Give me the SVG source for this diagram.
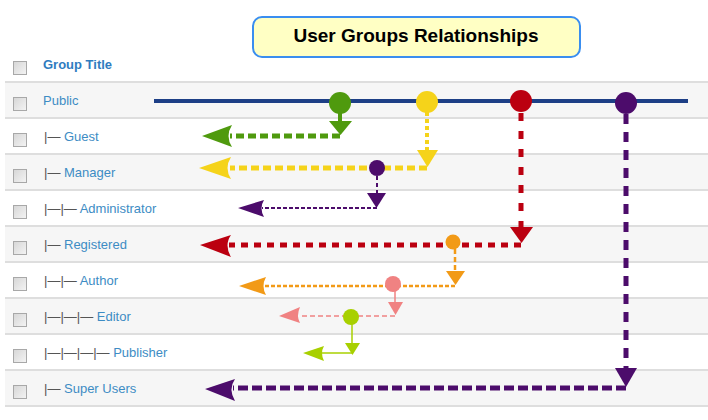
<svg xmlns="http://www.w3.org/2000/svg" width="708" height="420" viewBox="0 0 708 420">
<style>
.bg{fill:#f6f6f6}
.sep{stroke:#dedede;stroke-width:2}
.cb{fill:url(#cbg);stroke:#a8a8a8;stroke-width:1}
.lbl{font-family:"Liberation Sans",Arial,sans-serif;font-size:13px;fill:#3d8cc4}
.tree{fill:#555555}
.hdr{font-weight:bold;fill:#2f7cbf}
.title{font-family:"Liberation Sans",Arial,sans-serif;font-size:19px;font-weight:bold;fill:#000}
.ln{fill:none}
</style>
<defs>
<linearGradient id="cbg" x1="0" y1="0" x2="1" y2="1">
<stop offset="0" stop-color="#d6d6d6"/>
<stop offset="1" stop-color="#f4f4f4"/>
</linearGradient>
</defs>
<rect width="708" height="420" fill="#ffffff"/>

<g id="table">
<rect class="bg" x="5" y="82" width="703" height="36"/>
<rect class="bg" x="5" y="154" width="703" height="36"/>
<rect class="bg" x="5" y="226" width="703" height="36"/>
<rect class="bg" x="5" y="298" width="703" height="36"/>
<rect class="bg" x="5" y="370" width="703" height="36"/>
<g class="sep">
<line x1="5" y1="82" x2="708" y2="82"/>
<line x1="5" y1="118" x2="708" y2="118"/>
<line x1="5" y1="154" x2="708" y2="154"/>
<line x1="5" y1="190" x2="708" y2="190"/>
<line x1="5" y1="226" x2="708" y2="226"/>
<line x1="5" y1="262" x2="708" y2="262"/>
<line x1="5" y1="298" x2="708" y2="298"/>
<line x1="5" y1="334" x2="708" y2="334"/>
<line x1="5" y1="370" x2="708" y2="370"/>
<line x1="5" y1="406" x2="708" y2="406"/>
</g>
</g>

<g id="title">
<rect x="253" y="17" width="327" height="40" rx="9" fill="#ffffc4" stroke="#3a8ef0" stroke-width="2"/>
<text class="title" x="416" y="42" text-anchor="middle">User Groups Relationships</text>
</g>

<g id="row-header"><rect class="cb" x="13.5" y="61.5" width="13" height="13"/><text class="lbl hdr" x="43" y="69">Group Title</text></g>
<g id="row-public"><rect class="cb" x="13.5" y="97.5" width="13" height="13"/><text class="lbl" x="43" y="105">Public</text></g>
<g id="row-guest"><rect class="cb" x="13.5" y="133.5" width="13" height="13"/><text class="lbl" x="44" y="141"><tspan class="tree">|—</tspan> Guest</text></g>
<g id="row-manager"><rect class="cb" x="13.5" y="169.5" width="13" height="13"/><text class="lbl" x="44" y="177"><tspan class="tree">|—</tspan> Manager</text></g>
<g id="row-administrator"><rect class="cb" x="13.5" y="205.5" width="13" height="13"/><text class="lbl" x="44" y="213"><tspan class="tree">|—|—</tspan> Administrator</text></g>
<g id="row-registered"><rect class="cb" x="13.5" y="241.5" width="13" height="13"/><text class="lbl" x="44" y="249"><tspan class="tree">|—</tspan> Registered</text></g>
<g id="row-author"><rect class="cb" x="13.5" y="277.5" width="13" height="13"/><text class="lbl" x="44" y="285"><tspan class="tree">|—|—</tspan> Author</text></g>
<g id="row-editor"><rect class="cb" x="13.5" y="313.5" width="13" height="13"/><text class="lbl" x="44" y="321"><tspan class="tree">|—|—|—</tspan> Editor</text></g>
<g id="row-publisher"><rect class="cb" x="13.5" y="349.5" width="13" height="13"/><text class="lbl" x="44" y="357"><tspan class="tree">|—|—|—|—</tspan> Publisher</text></g>
<g id="row-superusers"><rect class="cb" x="13.5" y="385.5" width="13" height="13"/><text class="lbl" x="44" y="393"><tspan class="tree">|—</tspan> Super Users</text></g>

<g id="connectors">
<line x1="154" y1="101" x2="688" y2="101" stroke="#1d3f86" stroke-width="4"/>

<g id="c-guest" fill="#4f9a0e" stroke="#4f9a0e">
<path class="ln" d="M340,112 V122" stroke-width="4"/>
<path d="M329,121 L352,121 L340.5,135 Z" stroke="none"/>
<path class="ln" d="M340,136 H230" stroke-width="5" stroke-dasharray="8 4"/>
<path d="M202,136 L232,125 Q225,136 232,147 Z" stroke="none"/>
<circle cx="340" cy="103" r="11" stroke="none"/>
</g>

<g id="c-manager" fill="#f5d31a" stroke="#f5d31a">
<path class="ln" d="M427,112 V151" stroke-width="4" stroke-dasharray="4 3"/>
<path d="M417,150 L438,150 L427.5,167 Z" stroke="none"/>
<path class="ln" d="M427,168 H230" stroke-width="5" stroke-dasharray="8 4"/>
<path d="M199,168 L231,157 Q224,168 231,179 Z" stroke="none"/>
<circle cx="427" cy="102" r="11" stroke="none"/>
</g>

<g id="c-administrator" fill="#4c0c6b" stroke="#4c0c6b">
<path class="ln" d="M377,176 V194" stroke-width="2" stroke-dasharray="4 3"/>
<path d="M367,193 L386,193 L376.5,208 Z" stroke="none"/>
<path class="ln" d="M377,208 H262" stroke-width="2" stroke-dasharray="4 2"/>
<path d="M238,208 L264,200 Q259,208 264,217 Z" stroke="none"/>
<circle cx="377" cy="168" r="8" stroke="none"/>
</g>

<g id="c-registered" fill="#bb0010" stroke="#bb0010">
<path class="ln" d="M521,113 V228" stroke-width="5" stroke-dasharray="8 10"/>
<path d="M510,227 L533,227 L521.5,243 Z" stroke="none"/>
<path class="ln" d="M521,245 H229" stroke-width="5" stroke-dasharray="7 6"/>
<path d="M200,245 L231,235 Q224,245 231,257 Z" stroke="none"/>
<circle cx="521" cy="101" r="11" stroke="none"/>
</g>

<g id="c-author" fill="#f29a17" stroke="#f29a17">
<path class="ln" d="M455,249 V272" stroke-width="2.5" stroke-dasharray="5 3"/>
<path d="M446,271 L465,271 L455.5,285 Z" stroke="none"/>
<path class="ln" d="M455,286 H265" stroke-width="2.5" stroke-dasharray="4 2"/>
<path d="M239,286 L266,277 Q261,286 266,295 Z" stroke="none"/>
<circle cx="453" cy="242" r="7.5" stroke="none"/>
</g>

<g id="c-editor" fill="#f08282" stroke="#f08282">
<path class="ln" d="M395,291 V303" stroke-width="1.5"/>
<path d="M388,302 L403,302 L395.5,315 Z" stroke="none"/>
<path class="ln" d="M395,316 H299" stroke-width="1.5" stroke-dasharray="5 3"/>
<path d="M279,316 L300,307 Q296,316 300,323 Z" stroke="none"/>
<circle cx="393" cy="284" r="8" stroke="none"/>
</g>

<g id="c-publisher" fill="#a8d000" stroke="#a8d000">
<path class="ln" d="M352,324 V344" stroke-width="1.5"/>
<path d="M345,343 L360,343 L352.5,355 Z" stroke="none"/>
<path class="ln" d="M352,353 H322" stroke-width="1.5"/>
<path d="M303,353 L324,346 Q320,353 324,361 Z" stroke="none"/>
<circle cx="351" cy="317" r="8" stroke="none"/>
</g>

<g id="c-superusers" fill="#4c0c6b" stroke="#4c0c6b">
<path class="ln" d="M626,114 V369" stroke-width="5" stroke-dasharray="10 8"/>
<path d="M615,368 L637,368 L626,387 Z" stroke="none"/>
<path class="ln" d="M626,388 H233" stroke-width="5" stroke-dasharray="10 4"/>
<path d="M205,389 L235,379 Q228,389 235,401 Z" stroke="none"/>
<circle cx="626" cy="103" r="11" stroke="none"/>
</g>
</g>
</svg>
